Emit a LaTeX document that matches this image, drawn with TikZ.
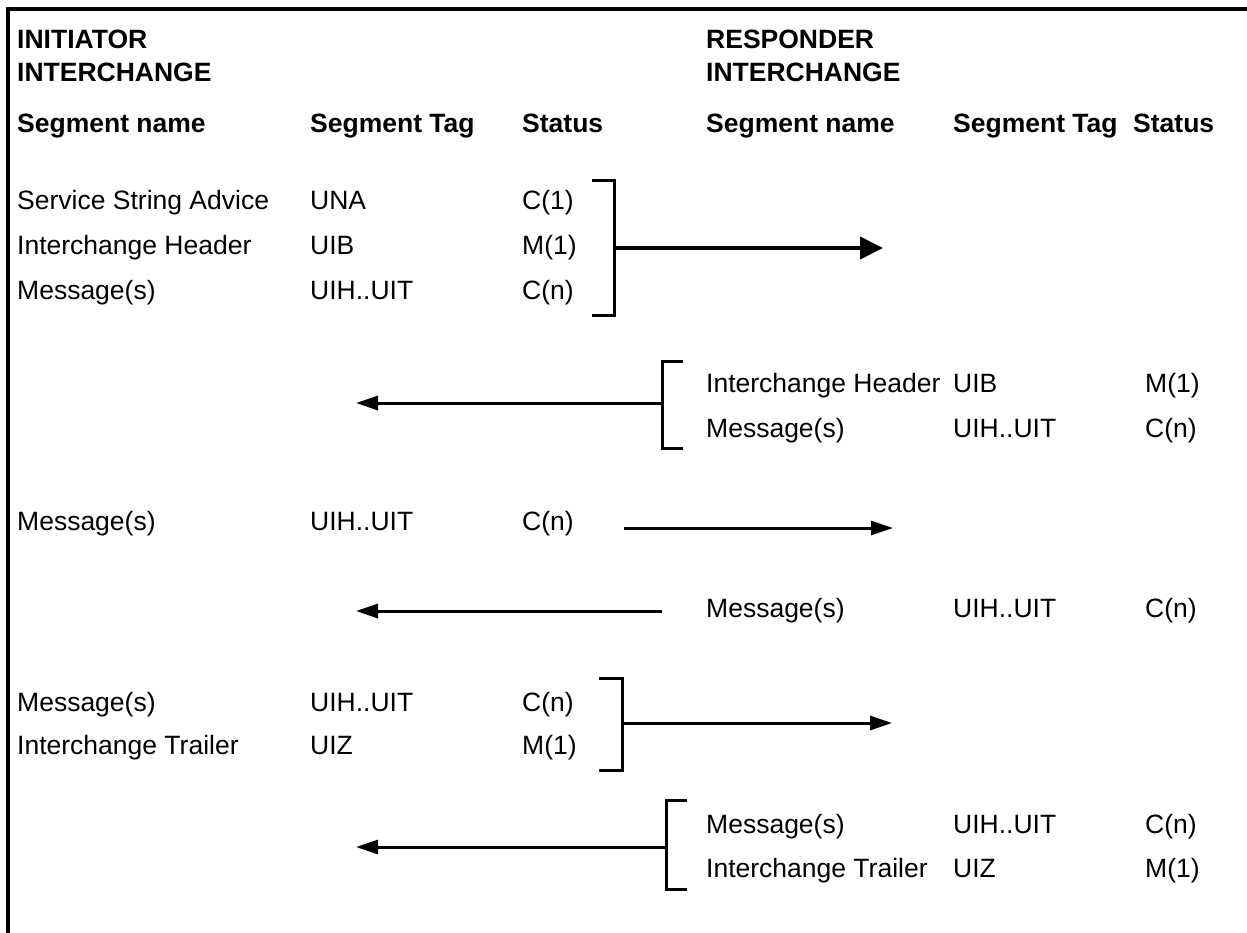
\documentclass[tikz,border=0pt]{standalone}
\usepackage{fontspec}
\setmainfont{Liberation Sans}
\usetikzlibrary{arrows.meta}
\begin{document}
\begin{tikzpicture}[x=1pt,y=-1pt,
  txt/.style={anchor=base west,inner sep=0pt,font=\fontsize{26.5}{30}\selectfont},
  hd/.style={anchor=base west,inner sep=0pt,font=\fontsize{26.5}{30}\selectfont\bfseries},
  brk/.style={line width=3pt,line join=miter},
  flow/.style={line width=3pt,-{Triangle[length=22pt,width=14pt]}},
  bigflow/.style={line width=4pt,-{Triangle[length=23pt,width=22pt]}}]
\useasboundingbox (0,0) rectangle (1247,932);
% frame
\draw[line width=4pt,line join=miter] (8,934) -- (8,9) -- (1249,9);

% headers
\node[hd] (iniA) at (17,48) {INITIATOR};
\node[hd] (iniB) at (17,81) {INTERCHANGE};
\node[hd] (resA) at (706,48) {RESPONDER};
\node[hd] (resB) at (706,81) {INTERCHANGE};
\node[hd] (h1) at (17,132) {Segment name};
\node[hd] (h2) at (310,132) {Segment Tag};
\node[hd] (h3) at (522,132) {Status};
\node[hd] (h4) at (706,132) {Segment name};
\node[hd] (h5) at (953,132) {Segment Tag};
\node[hd] (h6) at (1133,132) {Status};

% block 1 (initiator)
\node[txt] (a1n) at (17,209) {Service String Advice};
\node[txt] (a1t) at (310,209) {UNA};
\node[txt] (a1s) at (522,209) {C(1)};
\node[txt] (a2n) at (17,254) {Interchange Header};
\node[txt] (a2t) at (310,254) {UIB};
\node[txt] (a2s) at (522,254) {M(1)};
\node[txt] (a3n) at (17,299) {Message(s)};
\node[txt] (a3t) at (310,299) {UIH..UIT};
\node[txt] (a3s) at (522,299) {C(n)};
\draw[brk] (592,180) -- (614,180) -- (614,315) -- (592,315);
\coordinate (b1) at (614,248);
\coordinate (e1) at (883,248);
\draw[bigflow] (b1) -- (e1);

% block 2 (responder)
\node[txt] (b1n) at (706,392) {Interchange Header};
\node[txt] (b1t) at (953,392) {UIB};
\node[txt] (b1s) at (1145,392) {M(1)};
\node[txt] (b2n) at (706,437) {Message(s)};
\node[txt] (b2t) at (953,437) {UIH..UIT};
\node[txt] (b2s) at (1145,437) {C(n)};
\draw[brk] (683,361) -- (662,361) -- (662,448) -- (683,448);
\coordinate (b2) at (662,403);
\coordinate (e2) at (356,403);
\draw[flow] (b2) -- (e2);

% single rows
\node[txt] (c1n) at (17,530) {Message(s)};
\node[txt] (c1t) at (310,530) {UIH..UIT};
\node[txt] (c1s) at (522,530) {C(n)};
\coordinate (s3) at (624,528);
\coordinate (e3) at (893,528);
\draw[flow] (s3) -- (e3);

\node[txt] (d1n) at (706,617) {Message(s)};
\node[txt] (d1t) at (953,617) {UIH..UIT};
\node[txt] (d1s) at (1145,617) {C(n)};
\coordinate (s4) at (662,611);
\coordinate (e4) at (356,611);
\draw[flow] (s4) -- (e4);

% block 3 (initiator)
\node[txt] (f1n) at (17,711) {Message(s)};
\node[txt] (f1t) at (310,711) {UIH..UIT};
\node[txt] (f1s) at (522,711) {C(n)};
\node[txt] (f2n) at (17,754) {Interchange Trailer};
\node[txt] (f2t) at (310,754) {UIZ};
\node[txt] (f2s) at (522,754) {M(1)};
\draw[brk] (599,678) -- (622,678) -- (622,770) -- (599,770);
\coordinate (b5) at (622,723);
\coordinate (e5) at (892,723);
\draw[flow] (b5) -- (e5);

% block 4 (responder)
\node[txt] (g1n) at (706,833) {Message(s)};
\node[txt] (g1t) at (953,833) {UIH..UIT};
\node[txt] (g1s) at (1145,833) {C(n)};
\node[txt] (g2n) at (706,877) {Interchange Trailer};
\node[txt] (g2t) at (953,877) {UIZ};
\node[txt] (g2s) at (1145,877) {M(1)};
\draw[brk] (687,800) -- (666,800) -- (666,889) -- (687,889);
\coordinate (b6) at (666,847);
\coordinate (e6) at (356,847);
\draw[flow] (b6) -- (e6);
\end{tikzpicture}
\end{document}
